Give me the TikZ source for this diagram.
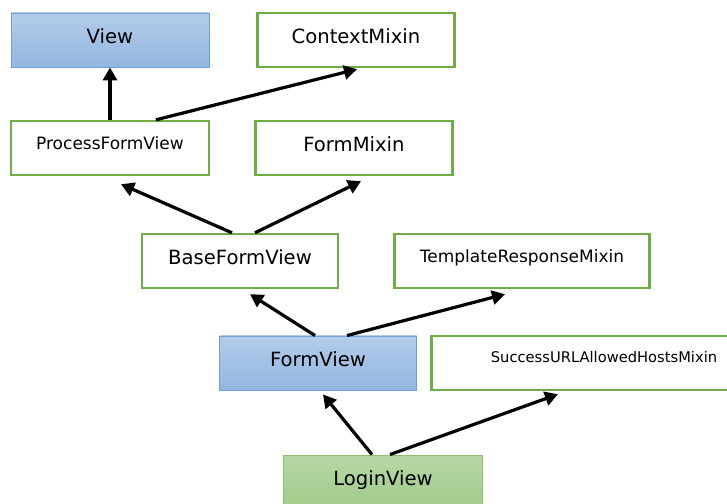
\documentclass[tikz,border=0pt]{standalone}
\usepackage{fontspec}
\setmainfont{DejaVu Sans}
\usetikzlibrary{arrows.meta}

\definecolor{bluetop}{HTML}{B3CCEA}
\definecolor{bluebot}{HTML}{93B6E0}
\definecolor{blueline}{HTML}{6F9FD8}
\definecolor{greenline}{HTML}{70AD47}
\definecolor{greentop}{HTML}{B7D8A6}
\definecolor{greenbot}{HTML}{A0CA89}
\definecolor{greenthin}{HTML}{8CC06D}

\tikzset{
	base/.style = {rectangle, minimum height = 54pt, inner sep = 0pt, font = \fontsize{19.6}{22}\selectfont, text height = 14.5pt, text depth = 7.2pt},
	mixin/.style = {base, draw = greenline, line width = 2.4pt, fill = white},
	view/.style = {base, draw = blueline, line width = .9pt, top color = bluetop, bottom color = bluebot},
	login/.style = {base, draw = greenthin, line width = .9pt, top color = greentop, bottom color = greenbot},
	small/.style = {font = \fontsize{17}{20}\selectfont, text height = 12.5pt, text depth = 9pt},
	tiny/.style = {font = \fontsize{14.7}{17}\selectfont, text height = 10.8pt, text depth = 12pt},
	inh/.style = {line width = 3.2pt, -{Triangle[length = 13pt, width = 14pt]}}
}

\begin{document}
\begin{tikzpicture}[x = 1pt, y = 1pt]
		\useasboundingbox (0,0) rectangle (727,503);
		\clip (0,0) rectangle (727,503);
		
		\node (View) at (110,463) [view, minimum width = 198pt] {View};
		\node (Ctx) at (356,463) [mixin, minimum width = 197pt] {ContextMixin};
		
		\node (PFV) at (110,355) [mixin, small, minimum width = 198pt] {ProcessFormView};
		\node (FMix) at (354,355) [mixin, minimum width = 197pt] {FormMixin};
		
		\node (BFV) at (240,242) [mixin, minimum width = 196pt] {BaseFormView};
		\node (TRMix) at (522,242) [mixin, small, minimum width = 255pt] {TemplateResponseMixin};
		
		\node (FV) at (318,140) [view, minimum width = 197pt] {FormView};
		\node (SUMix) at (604,140) [mixin, tiny, minimum width = 345pt] {SuccessURLAllowedHostsMixin};
		
		\node (Login) at (383,21) [login, minimum width = 199pt] {LoginView};
		
		\draw [inh] (PFV.north) -- (View.south);
		\draw [inh] ([xshift = 46pt]PFV.north) -- ([xshift = 1pt, yshift = -1pt]Ctx.south);
		
		\draw [inh] ([xshift = -8pt]BFV.north) -- ([xshift = 11pt, yshift = -8pt]PFV.south);
		\draw [inh] ([xshift = 15pt]BFV.north) -- ([xshift = 7pt, yshift = -5pt]FMix.south);
		
		\draw [inh] ([xshift = -3pt]FV.north) -- ([xshift = 10pt, yshift = -5pt]BFV.south);
		\draw [inh] ([xshift = 29pt]FV.north) -- ([xshift = -17pt, yshift = -5pt]TRMix.south);
		
		\draw [inh] ([xshift = -11pt]Login.north) -- ([xshift = 5pt, yshift = -4pt]FV.south);
		\draw [inh] ([xshift = 7pt]Login.north) -- ([xshift = -46pt, yshift = -3pt]SUMix.south);
\end{tikzpicture}
\end{document}
